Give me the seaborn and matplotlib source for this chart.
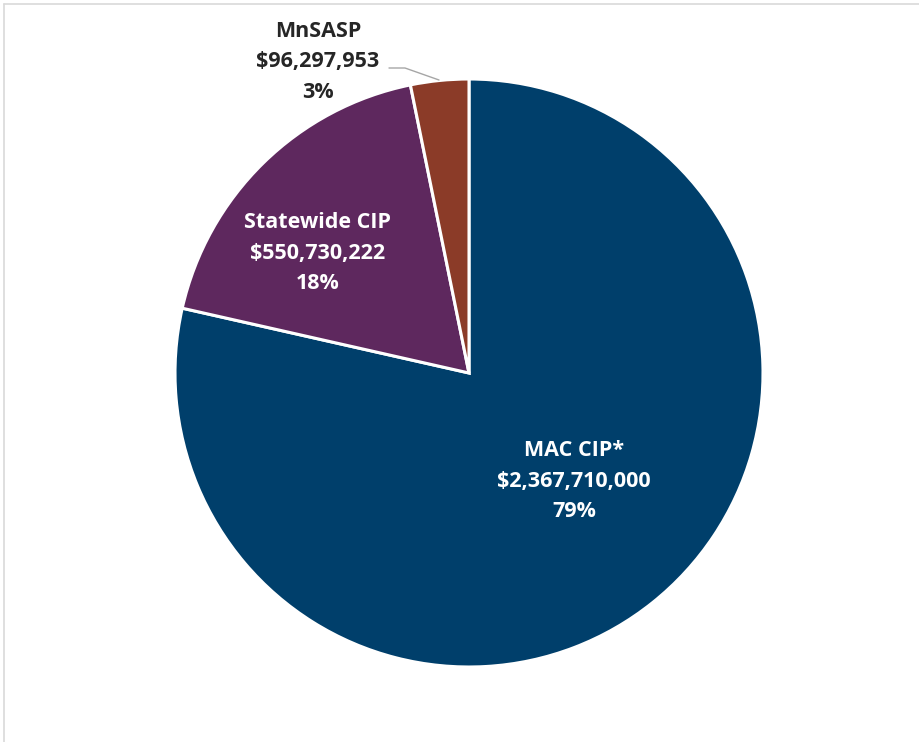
import matplotlib
matplotlib.use("Agg")
import matplotlib.pyplot as plt
from matplotlib.lines import Line2D
import seaborn as sns

# Capital program funding breakdown
programs = ["MAC CIP*", "Statewide CIP", "MnSASP"]
amounts = [2367710000, 550730222, 96297953]
colors = ["#003F6B", "#5E285E", "#8B3B28"]

sns.set_theme(style="white")
plt.rcParams["font.family"] = ["Open Sans", "DejaVu Sans"]

W, H = 919, 742
fig = plt.figure(figsize=(W / 100, H / 100), dpi=100)
ax = fig.add_axes([0, 0, 1, 1])

cx, cy, r = 469, H - 373, 294
wedges, _ = ax.pie(
    amounts,
    colors=colors,
    startangle=90,
    counterclock=False,
    center=(cx, cy),
    radius=r,
    frame=True,
    wedgeprops=dict(edgecolor="white", linewidth=2.2),
)
ax.set_xlim(0, W)
ax.set_ylim(0, H)
ax.set_aspect("equal")
ax.axis("off")

total = sum(amounts)
labels = [
    f"{name}\n${amt:,.0f}\n{round(amt / total * 100):.0f}%"
    for name, amt in zip(programs, amounts)
]

text_kw = dict(ha="center", va="center", fontsize=15.5, fontweight="bold",
               linespacing=1.62)
ax.text(574, H - 481, labels[0], color="white", **text_kw)
ax.text(318, H - 253, labels[1], color="white", **text_kw)
ax.text(318, H - 62, labels[2], color="#262626", **text_kw)

# leader line for the small slice
ax.plot([389, 405, 439], [H - 68, H - 68, H - 80], color="#A6A6A6", lw=1)

# chart-area frame
fig.add_artist(Line2D([4 / W, 1], [1 - 4 / H, 1 - 4 / H],
                      transform=fig.transFigure, color="#D9D9D9", lw=1.2))
fig.add_artist(Line2D([4 / W, 4 / W], [0, 1 - 4 / H],
                      transform=fig.transFigure, color="#D9D9D9", lw=1.2))

fig.savefig("out.png", dpi=100, facecolor="white")
